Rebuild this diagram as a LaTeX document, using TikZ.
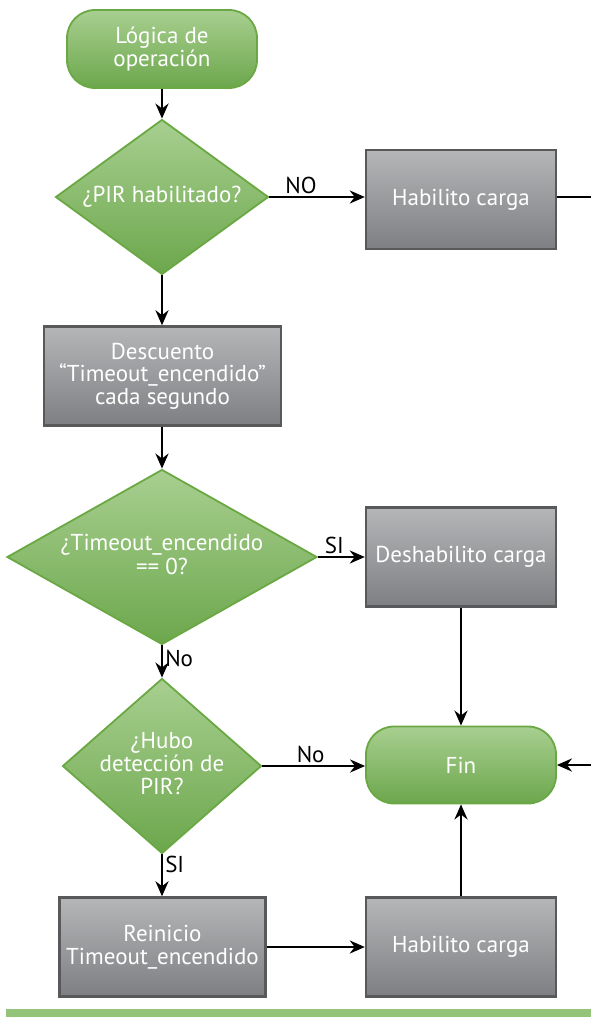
\documentclass[tikz,border=0pt]{standalone}
\usepackage{fontspec}
\setmainfont{PT Sans}
\usetikzlibrary{shapes.geometric,arrows.meta}
\definecolor{gtop}{HTML}{A8CF90}
\definecolor{gbot}{HTML}{6CA74C}
\definecolor{gline}{HTML}{6AA843}
\definecolor{ktop}{HTML}{B5B6B8}
\definecolor{kbot}{HTML}{7E7F82}
\definecolor{kline}{HTML}{58595B}
\definecolor{bar}{HTML}{93C47A}
\newcommand\dtext[1]{\smash{\makebox[0pt]{\raisebox{-.3em}{\begin{tabular}{@{}c@{}}#1\end{tabular}}}}}
\tikzset{
  txt/.style={font=\fontsize{23}{22.5}\selectfont, align=center},
  term/.style={txt, text=white, draw=gline, line width=1.8pt, top color=gtop, bottom color=gbot,
    rounded corners=28pt, minimum width=190pt, inner sep=0pt},
  proc/.style={txt, text=white, draw=kline, line width=2.4pt, top color=ktop, bottom color=kbot,
    minimum width=190pt, minimum height=99pt, inner sep=0pt},
  dec/.style={txt, text=white, shape=diamond, draw=gline, line width=1.8pt, top color=gtop, bottom color=gbot,
    inner sep=0pt},
  conn/.style={line width=2.5pt, -{Stealth[length=15pt,width=13pt]}},
  plain/.style={line width=2.5pt},
  lbl/.style={font=\fontsize{23}{22}\selectfont, text=black, inner sep=2pt}
}
\begin{document}
\begin{tikzpicture}[x=1pt,y=-1pt]
\useasboundingbox (0,0) rectangle (591,1017);
\node[term, minimum height=78pt] (start) at (162,49) {Lógica de\\operación};
\node[dec, minimum width=213pt, minimum height=155pt] (d1) at (162,197) {\dtext{¿PIR habilitado?}};
\node[proc] (hab1) at (461,199.5) {Habilito carga};
\node[proc, minimum width=237pt] (desc) at (162.5,376) {Descuento\\“Timeout\_encendido”\\cada segundo};
\node[dec, minimum width=310pt, minimum height=175pt] (d2) at (162,557) {\dtext{¿Timeout\_encendido\\== 0?}};
\node[proc] (desh) at (461,557) {Deshabilito carga};
\node[dec, minimum width=199pt, minimum height=175pt] (d3) at (162,766) {\dtext{¿Hubo\\detección de\\PIR?}};
\node[term, minimum height=77pt] (fin) at (461,765) {Fin};
\node[proc, minimum width=206pt] (rein) at (162.5,947) {Reinicio\\Timeout\_encendido};
\node[proc] (hab2) at (461,947) {Habilito carga};
\coordinate (r1) at (591,197);
\coordinate (r2) at (591,765);
\fill[bar] (6,1009) rectangle (591,1017);

\draw[conn] (start) -- (d1);
\draw[conn] (d1.east) -- node[lbl, above, pos=0.33] {NO} (hab1.west |- d1.east);
\draw[plain] (hab1.east |- r1) -- (r1);
\draw[conn] (d1.south) -- (d1.south |- desc.north);
\draw[conn] (d1.south |- desc.south) -- (d2.north);
\draw[conn] (d2.east) -- node[lbl, above, pos=0.35] {SI} (desh.west |- d2.east);
\draw[conn] (d2) -- node[lbl, right, pos=0.4] {No} (d3);
\draw[conn] (desh) -- (fin);
\draw[conn] (d3.east) -- node[lbl, above, pos=0.47] {No} (fin.west |- d3.east);
\draw[conn] (r2) -- (fin.east);
\draw[conn] (d3.south) -- node[lbl, right, pos=0.25] {SI} (d3.south |- rein.north);
\draw[conn] (rein.east |- hab2.west) -- (hab2.west);
\draw[conn] (hab2) -- (fin);
\end{tikzpicture}
\end{document}
